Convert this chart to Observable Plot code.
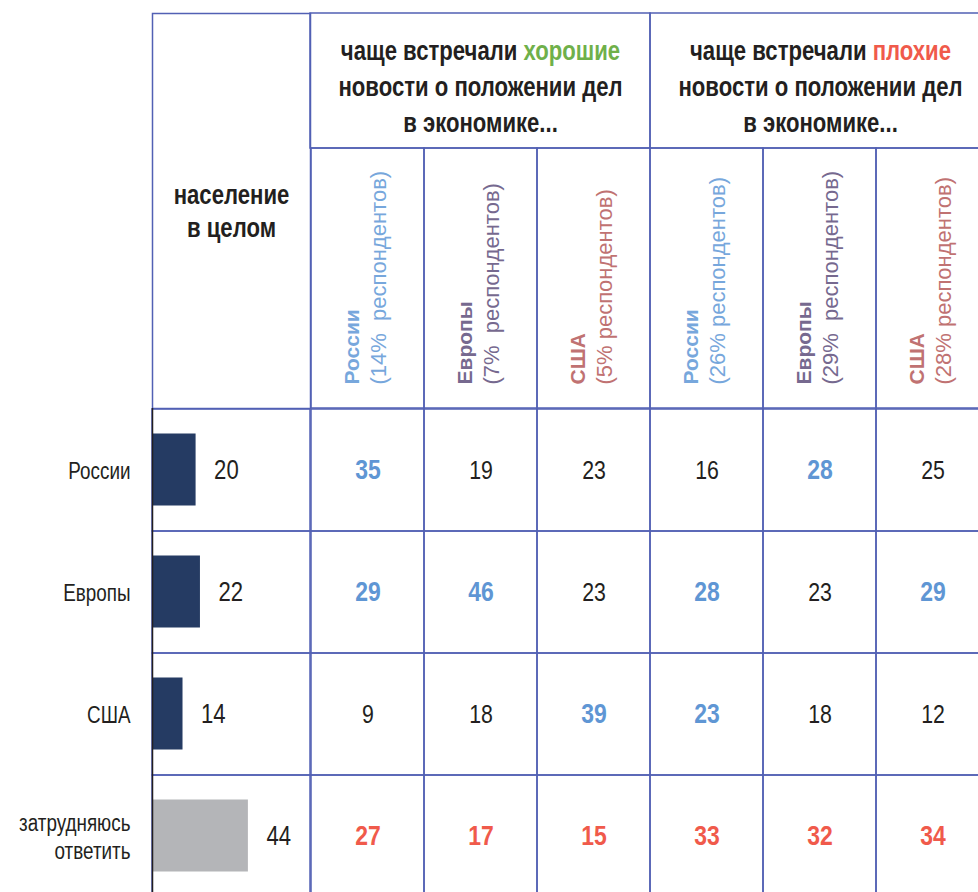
<!DOCTYPE html>
<html>
<head>
<meta charset="utf-8">
<script src="https://cdn.jsdelivr.net/npm/d3@7"></script>
<script src="https://cdn.jsdelivr.net/npm/@observablehq/plot@0.6"></script>
<style>
html, body { margin: 0; padding: 0; background: #fff; }
#chart { position: relative; width: 978px; height: 892px; overflow: hidden; background: #fff; }
#chart > div { position: absolute; }
#chart svg { max-width: none !important; }
</style>
</head>
<body>
<div id="chart"></div>
<script>
// ---------- data ----------
const rows = ["России", "Европы", "США", "затрудняюсь\nответить"];
const popHeader = "население\nв целом";
const popTotal = [20, 22, 14, 44];

const groups = ["good", "bad"];
const groupLabels = [
  "чаще встречали хорошие\nновости о положении дел\nв экономике...",
  "чаще встречали плохие\nновости о положении дел\nв экономике..."
];
const groupKeywords = ["хорошие", "плохие"];

const colKeys = ["good-ru", "good-eu", "good-us", "bad-ru", "bad-eu", "bad-us"];
const colRegions = ["России", "Европы", "США", "России", "Европы", "США"];
const colShares = ["(14%  респондентов)", "(7%  респондентов)", "(5% респондентов)",
                   "(26% респондентов)", "(29%  респондентов)", "(28% респондентов)"];

const goodRu = [35, 29, 9, 27];
const goodEu = [19, 46, 18, 17];
const goodUs = [23, 23, 39, 15];
const badRu  = [16, 28, 23, 33];
const badEu  = [28, 23, 18, 32];
const badUs  = [25, 29, 12, 34];
// highlighted (blue bold) cells as [rowIndex, colIndex]
const highlighted = [[0, 0], [0, 4], [1, 0], [1, 1], [1, 3], [1, 5], [2, 2], [2, 3]];

// ---------- styles ----------
const GRID = "#5260b4";
const INK = "#231f20";
const BLUE = "#5f96d4";
const RED = "#f05a4b";
const GREEN = "#6fb04a";
const NAVY = "#253b63";
const GRAY = "#b4b5b8";
const regionColor = { "России": "#77a7dc", "Европы": "#76698f", "США": "#c07272" };
const keywordColor = [GREEN, RED];
const SANS = "'Liberation Sans',Arial,sans-serif";
const baseStyle = { background: "transparent", overflow: "visible", fontFamily: SANS, maxWidth: "none" };
const NARROW = 0.82; // horizontal condensing of the narrow typeface

const columns = [goodRu, goodEu, goodUs, badRu, badEu, badUs];
const cells = [];
columns.forEach((vals, ci) => vals.forEach((v, ri) => {
  const hi = highlighted.some(([r, c]) => r === ri && c === ci);
  cells.push({ col: colKeys[ci], row: rows[ri], value: v, kind: ri === 3 ? "unsure" : hi ? "hi" : "plain" });
}));

const chart = document.getElementById("chart");
function place(el, left, top) {
  const d = document.createElement("div");
  d.style.left = left + "px";
  d.style.top = top + "px";
  d.style.width = el.getAttribute("width") + "px";
  d.style.height = el.getAttribute("height") + "px";
  d.appendChild(el);
  chart.appendChild(d);
}
function condense(svg) {
  svg.querySelectorAll("text").forEach(t => {
    const tr = t.getAttribute("transform") || "";
    t.setAttribute("transform", tr + ` scale(${NARROW},1)`);
  });
  return svg;
}

// ---------- left header ----------
place(condense(Plot.plot({
  width: 320, height: 420,
  marginLeft: 152, marginRight: 10, marginTop: 13, marginBottom: 12,
  style: baseStyle,
  marks: [
    Plot.frame({ stroke: GRID, strokeWidth: 1.5 }),
    Plot.text([popHeader], { text: d => d, frameAnchor: "middle", fontSize: 27, fontWeight: "bold", fill: INK, lineHeight: 1.22, dy: -1 })
  ]
})), 0, 0);

// ---------- group header ----------
const groupPlot = Plot.plot({
  width: 700, height: 160,
  marginLeft: 10, marginRight: 10, marginTop: 13, marginBottom: 12,
  style: baseStyle,
  x: { type: "band", domain: groups, padding: 0, axis: null },
  marks: [
    Plot.cell(groups, { x: d => d, fill: "none", stroke: GRID, strokeWidth: 1.5 }),
    Plot.text(groups, { x: d => d, text: (d, i) => groupLabels[i], fontSize: 27, fontWeight: "bold", fill: INK, lineHeight: 1.333, dy: 3 })
  ]
});
groupKeywords.forEach((kw, i) => {
  groupPlot.querySelectorAll("tspan, text").forEach(t => {
    if (t.childElementCount === 0 && t.textContent.endsWith(kw)) {
      t.textContent = t.textContent.slice(0, -kw.length);
      const k = document.createElementNS("http://www.w3.org/2000/svg", "tspan");
      k.setAttribute("fill", keywordColor[i]);
      k.textContent = kw;
      t.appendChild(k);
    }
  });
});
place(condense(groupPlot), 300, 0);

// ---------- column sub-headers ----------
place(Plot.plot({
  width: 700, height: 270,
  marginLeft: 10, marginRight: 10, marginTop: 8, marginBottom: 2,
  style: baseStyle,
  x: { type: "band", domain: colKeys, padding: 0, axis: null },
  color: { type: "identity" },
  marks: [
    Plot.cell(colKeys, { x: d => d, fill: "none", stroke: GRID, strokeWidth: 1.5 }),
    Plot.text(colKeys, { x: d => d, text: (d, i) => colRegions[i], fill: (d, i) => regionColor[colRegions[i]],
      rotate: -90, textAnchor: "start", frameAnchor: "bottom", dy: -24, dx: -9,
      fontWeight: "bold", fontSize: 21 }),
    Plot.text(colKeys, { x: d => d, text: (d, i) => colShares[i], fill: (d, i) => regionColor[colRegions[i]],
      rotate: -90, textAnchor: "start", frameAnchor: "bottom", dy: -24, dx: 18,
      fontSize: 22 })
  ]
}), 300, 140);

// ---------- left body: population bars ----------
place(condense(Plot.plot({
  width: 320, height: 500,
  marginLeft: 152, marginRight: 10, marginTop: 8, marginBottom: 2,
  style: baseStyle,
  x: { domain: [0, 72.5], axis: null },
  y: { type: "band", domain: rows, padding: 0, axis: null },
  color: { type: "identity" },
  marks: [
    Plot.cell(rows, { y: d => d, fill: "none", stroke: GRID, strokeWidth: 1.5 }),
    Plot.barX(popTotal, { x: d => d, y: (d, i) => rows[i], fill: (d, i) => i === 3 ? GRAY : NAVY, insetTop: 24.5, insetBottom: 25.5 }),
    Plot.text(popTotal, { x: d => d, y: (d, i) => rows[i], text: d => String(d), dx: 18, textAnchor: "start", fontSize: 27, fill: INK }),
    Plot.text(rows, { y: d => d, text: d => d, frameAnchor: "left", textAnchor: "end", dx: -22, fontSize: 23, lineHeight: 1.22, fill: INK }),
    Plot.ruleX([0], { stroke: INK, strokeWidth: 1.5 })
  ]
})), 0, 400);

// ---------- right body: value grid ----------
place(condense(Plot.plot({
  width: 700, height: 500,
  marginLeft: 10, marginRight: 10, marginTop: 8, marginBottom: 2,
  style: baseStyle,
  x: { type: "band", domain: colKeys, padding: 0, axis: null },
  y: { type: "band", domain: rows, padding: 0, axis: null },
  color: { type: "identity" },
  marks: [
    Plot.cell(cells, { x: "col", y: "row", fill: "none", stroke: GRID, strokeWidth: 1.5 }),
    Plot.text(cells.filter(d => d.kind === "plain"), { x: "col", y: "row", text: d => String(d.value), fontSize: 26, fill: INK }),
    Plot.text(cells.filter(d => d.kind !== "plain"), { x: "col", y: "row", text: d => String(d.value), fontSize: 28, fontWeight: "bold",
      fill: d => d.kind === "hi" ? BLUE : RED })
  ]
})), 300, 400);
</script>
</body>
</html>
